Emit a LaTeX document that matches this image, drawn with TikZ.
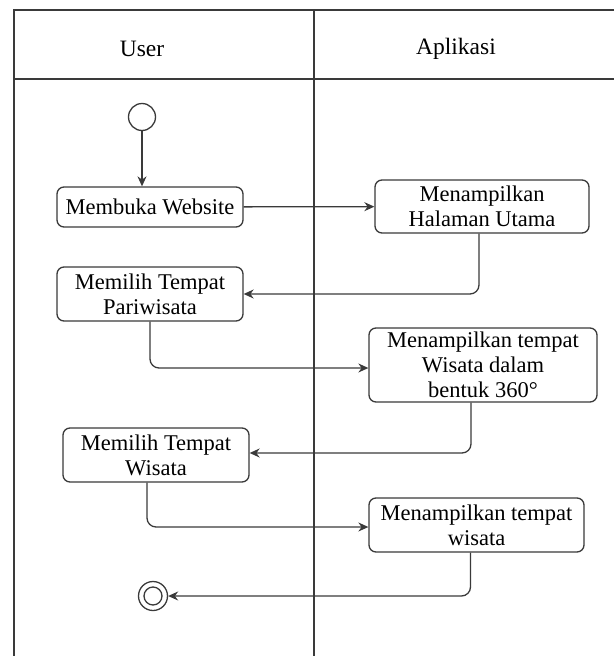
\documentclass[tikz,border=0pt]{standalone}
\usepackage{fontspec}
\setmainfont{Liberation Serif}
\usetikzlibrary{arrows.meta,positioning}
\definecolor{ln}{HTML}{3A3A3A}
\tikzset{
  act/.style={draw=ln, line width=1.3pt, rounded corners=7pt, fill=white, align=center,
    font=\fontsize{22.5}{25}\selectfont, inner sep=1pt},
  flow/.style={draw=ln, line width=1.3pt, rounded corners=9pt,
    -{Stealth[length=10pt,width=9pt]}},
  lane/.style={draw=ln, line width=1.5pt},
  hdr/.style={font=\fontsize{23.5}{26}\selectfont}
}
\begin{document}
\begin{tikzpicture}[x=1pt,y=-1pt]
\useasboundingbox (0,0) rectangle (614,656);
% swimlanes
\draw[lane] (614,10) -- (14,10) -- (14,656);
\draw[lane] (14,79) -- (614,79);
\draw[lane] (314,10) -- (314,656);
\node[hdr] (huser) at (142,49) {User};
\node[hdr] (happ) at (456,49) {Aplikasi};
% nodes
\node[circle, draw=ln, line width=1.3pt, minimum size=27pt, inner sep=0pt] (start) at (142,117) {};
\node[act, minimum width=186pt, minimum height=40pt] (mw) at (150,207) {Membuka Website};
\node[act, minimum width=214pt, minimum height=53pt] (mhu) at (482,206.5) {Menampilkan\\Halaman Utama};
\node[act, minimum width=186pt, minimum height=54pt] (mtp) at (150,294) {Memilih Tempat\\Pariwisata};
\node[act, minimum width=228pt, minimum height=74pt] (mtw360) at (483,365) {Menampilkan tempat\\Wisata dalam\\bentuk 360°};
\node[act, minimum width=186pt, minimum height=54pt] (mtw) at (156,455) {Memilih Tempat\\Wisata};
\node[act, minimum width=215pt, minimum height=54pt] (mtwis) at (476.5,525) {Menampilkan tempat\\wisata};
\node[circle, draw=ln, line width=1.3pt, minimum size=29pt, inner sep=0pt] (end) at (153,596) {};
\node[circle, draw=ln, line width=1.3pt, minimum size=18pt, inner sep=0pt] (endin) at (end.center) {};
% flows
\draw[flow] (start.south) -- (start.south |- mw.north);
\draw[flow] (mw) -- (mhu);
\draw[flow] ([xshift=-3pt]mhu.south) |- (mtp.east);
\draw[flow] (mtp.south) |- ([yshift=-3pt]mtw360.west);
\draw[flow] ([xshift=-12pt]mtw360.south) |- ([yshift=2pt]mtw.east);
\draw[flow] ([xshift=-9pt]mtw.south) |- ([yshift=-2pt]mtwis.west);
\draw[flow] ([xshift=-6pt]mtwis.south) |- (end.east);
\end{tikzpicture}
\end{document}
